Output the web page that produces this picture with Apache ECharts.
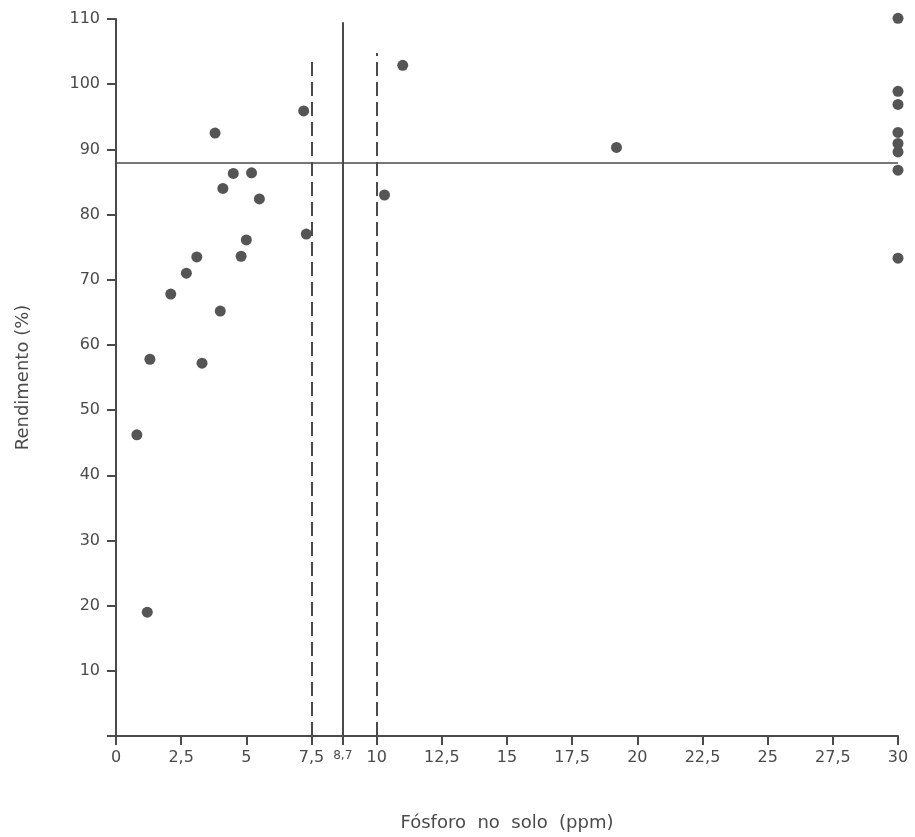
<!DOCTYPE html>
<html>
<head>
<meta charset="utf-8">
<script src="https://cdn.jsdelivr.net/npm/echarts@6/dist/echarts.min.js"></script>
<style>
html, body { margin: 0; padding: 0; background: #fff; }
#main { width: 915px; height: 837px; }
</style>
</head>
<body>
<div id="main"></div>
<script>
// phosphorus in soil (ppm) vs relative yield (%)
var fosforo = [0.8, 1.2, 1.3, 2.1, 2.7, 3.1, 3.3, 3.8, 4.0, 4.1, 4.5, 4.8, 5.0, 5.2, 5.5,
               7.2, 7.3, 10.3, 11.0, 19.2, 30, 30, 30, 30, 30, 30, 30, 30];
var rendimento = [46.2, 19.0, 57.8, 67.8, 71.0, 73.5, 57.2, 92.5, 65.2, 84.0, 86.3, 73.6, 76.1, 86.4, 82.4,
                  95.9, 77.0, 83.0, 102.9, 90.3, 110.1, 98.9, 96.9, 92.6, 90.9, 89.6, 86.8, 73.3];
var xTicks = [0, 2.5, 5, 7.5, 8.7, 10, 12.5, 15, 17.5, 20, 22.5, 25, 27.5, 30];
var yTicks = [10, 20, 30, 40, 50, 60, 70, 80, 90, 100, 110];
// critical level and limits
var nivelCritico = 8.7, limInf = 7.5, limSup = 10;
var rendCritico = 88;

var pts = fosforo.map(function (x, i) { return [x, rendimento[i]]; });
var ink = '#4a4a4a';
var font = 'DejaVu Sans';

var option = {
    animation: false,
    backgroundColor: '#fff',
    grid: { left: 116, right: 17, top: 19, bottom: 101 },
    xAxis: {
        type: 'value', min: 0, max: 30,
        name: 'Fósforo  no  solo  (ppm)', nameLocation: 'middle', nameGap: 78,
        nameTextStyle: { fontFamily: font, fontSize: 18, color: ink },
        axisLine: { lineStyle: { color: ink, width: 2 } },
        axisTick: { length: 9, lineStyle: { color: ink, width: 2 }, customValues: xTicks },
        axisLabel: {
            customValues: xTicks, margin: 14, fontFamily: font, fontSize: 16, color: ink,
            formatter: function (v) {
                var s = String(v).replace('.', ',');
                return v === nivelCritico ? '{s|' + s + '}' : s;
            },
            rich: { s: { fontSize: 12, fontFamily: font, color: ink, verticalAlign: 'top', lineHeight: 12, padding: [0, 0, 24, 0] } }
        },
        splitLine: { show: false }
    },
    yAxis: {
        type: 'value', min: 0, max: 110, interval: 10,
        name: 'Rendimento (%)', nameLocation: 'middle', nameGap: 84,
        nameTextStyle: { fontFamily: font, fontSize: 18, color: ink },
        axisLine: { show: true, lineStyle: { color: ink, width: 2 } },
        axisTick: { show: true, length: 9, lineStyle: { color: ink, width: 2 } },
        axisLabel: {
            margin: 16, fontFamily: font, fontSize: 16, color: ink,
            formatter: function (v) { return v === 0 ? '' : String(v); }
        },
        splitLine: { show: false }
    },
    series: [{
        type: 'scatter',
        data: pts,
        clip: false,
        symbolSize: 11,
        itemStyle: { color: '#555555', opacity: 1 },
        markLine: {
            silent: true, symbol: 'none', label: { show: false },
            data: [
                [{ coord: [0, rendCritico], lineStyle: { type: 'solid', width: 1.5, color: ink } },
                 { coord: [30, rendCritico] }],
                [{ coord: [nivelCritico, 0], lineStyle: { type: 'solid', width: 2, color: ink } },
                 { coord: [nivelCritico, 109.5] }],
                [{ coord: [limInf, 0], lineStyle: { type: [14, 6], width: 2, color: ink } },
                 { coord: [limInf, 103.4] }],
                [{ coord: [limSup, 0], lineStyle: { type: [14, 6], width: 2, color: ink } },
                 { coord: [limSup, 104.8] }]
            ]
        }
    }]
};
var myChart = echarts.init(document.getElementById('main'));
myChart.setOption(option);
</script>
</body>
</html>
